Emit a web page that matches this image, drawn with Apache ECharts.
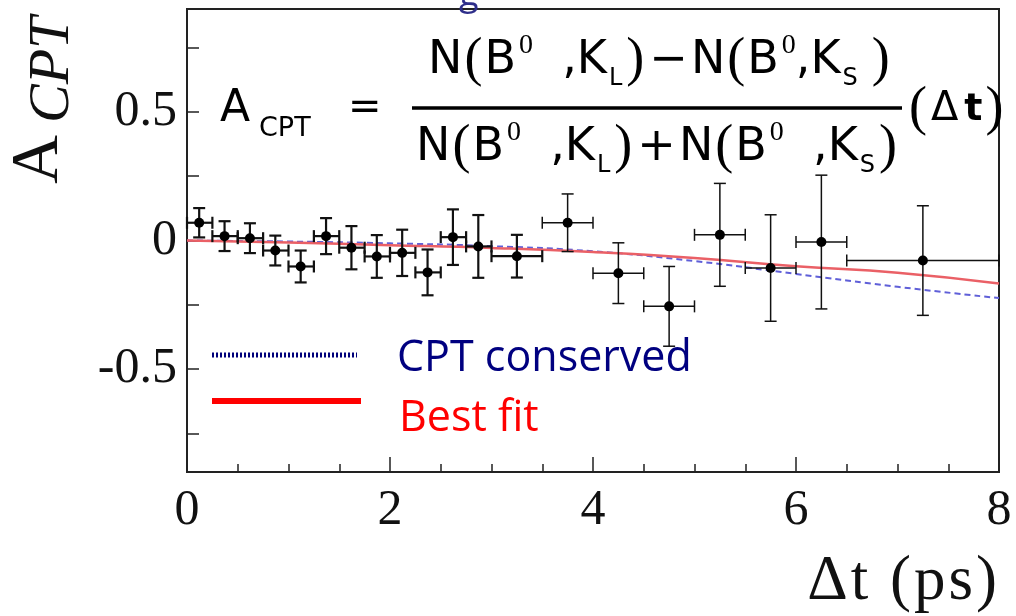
<!DOCTYPE html>
<html>
<head>
<meta charset="utf-8">
<script src="https://cdn.jsdelivr.net/npm/echarts@6/dist/echarts.min.js"></script>
<style>
  html, body { margin: 0; padding: 0; background: #fff; }
  #chart { width: 1016px; height: 616px; }
</style>
</head>
<body>
<div id="chart"></div>
<script>
// Measured CPT asymmetry per Δt bin
const dtCenter = [0.12, 0.37, 0.62, 0.87, 1.12, 1.37, 1.62, 1.87, 2.12, 2.37, 2.62, 2.87, 3.25, 3.75, 4.25, 4.75, 5.25, 5.75, 6.25, 7.25];
const binLow   = [0, 0.25, 0.5, 0.75, 1.0, 1.25, 1.5, 1.75, 2.0, 2.25, 2.5, 2.75, 3.0, 3.5, 4.0, 4.5, 5.0, 5.5, 6.0, 6.5];
const binHigh  = [0.25, 0.5, 0.75, 1.0, 1.25, 1.5, 1.75, 2.0, 2.25, 2.5, 2.75, 3.0, 3.5, 4.0, 4.5, 5.0, 5.5, 6.0, 6.5, 8.0];
const acpt     = [0.069, 0.017, 0.009, -0.039, -0.101, 0.017, -0.028, -0.062, -0.048, -0.124, 0.013, -0.023, -0.061, 0.069, -0.127, -0.256, 0.022, -0.107, -0.006, -0.078];
const acptErr  = [0.057, 0.058, 0.058, 0.058, 0.062, 0.070, 0.084, 0.083, 0.090, 0.089, 0.108, 0.122, 0.083, 0.112, 0.118, 0.155, 0.200, 0.207, 0.260, 0.213];

// Model curves
const curveDt      = [0, 1, 2, 3, 4, 5, 6, 7, 8];
const cptConserved = [0, -0.004, -0.011, -0.022, -0.042, -0.080, -0.130, -0.180, -0.224];
const bestFit      = [0, -0.008, -0.018, -0.029, -0.045, -0.068, -0.100, -0.125, -0.167];

// Axis ticks
const xTicks = [0, 2, 4, 6, 8];
const yLabels = [-0.5, 0, 0.5];
const yTicks = [-0.75, -0.5, -0.25, 0, 0.25, 0.5, 0.75];

const points = dtCenter.map((x, i) => [x, acpt[i], binLow[i], binHigh[i], acptErr[i]]);

const serif = '"Liberation Serif", "DejaVu Serif", serif';
const sans = '"DejaVu Sans", sans-serif';
const hand = '"Open Sans", "DejaVu Sans", sans-serif';

function renderPoint(params, api) {
  const x = api.value(0), y = api.value(1);
  const lo = api.value(2), hi = api.value(3), e = api.value(4);
  const c = api.coord([x, y]);
  const top = api.coord([x, y + e]);
  const bot = api.coord([x, y - e]);
  const left = api.coord([lo, y]);
  const right = api.coord([hi, y]);
  const w = x < 3.5 ? 2.2 : 1.5;
  const st = { stroke: '#111', lineWidth: w, fill: null };
  const cap = 6;
  return {
    type: 'group',
    children: [
      { type: 'line', shape: { x1: c[0], y1: top[1], x2: c[0], y2: bot[1] }, style: st },
      { type: 'line', shape: { x1: c[0] - cap, y1: top[1], x2: c[0] + cap, y2: top[1] }, style: st },
      { type: 'line', shape: { x1: c[0] - cap, y1: bot[1], x2: c[0] + cap, y2: bot[1] }, style: st },
      { type: 'line', shape: { x1: left[0], y1: c[1], x2: right[0], y2: c[1] }, style: st },
      { type: 'line', shape: { x1: left[0], y1: c[1] - cap, x2: left[0], y2: c[1] + cap }, style: st },
      { type: 'line', shape: { x1: right[0], y1: c[1] - cap, x2: right[0], y2: c[1] + cap }, style: st },
      { type: 'circle', shape: { cx: c[0], cy: c[1], r: 5 }, style: { fill: '#000' } }
    ]
  };
}

// Rich-text styles for the fraction
const fracRich = {
  n: { fontFamily: sans, fontSize: 46, fill: '#000', lineHeight: 64, verticalAlign: 'middle' },
  pr: { fontFamily: serif, fontSize: 54, fill: '#000', lineHeight: 64, verticalAlign: 'middle', padding: [0, 2, 0, 2] },
  p: { fontFamily: serif, fontSize: 28, fill: '#000', lineHeight: 64, verticalAlign: 'top', padding: [3, 0, 0, 3] },
  b: { fontFamily: sans, fontSize: 24, fill: '#000', lineHeight: 64, verticalAlign: 'bottom', padding: [0, 2, 2, 2] },
  bs: { fontFamily: sans, fontSize: 24, fill: '#000', lineHeight: 64, verticalAlign: 'bottom', padding: [0, 12, 2, 2] },
  op: { fontFamily: sans, fontSize: 46, fill: '#000', lineHeight: 64, verticalAlign: 'middle', padding: [0, 3, 0, 3] }
};

// Δt with spaced glyphs
const axisTitleRich = {
  c: { fontFamily: serif, fontSize: 63, fill: '#111', padding: [0, 3, 0, 0] }
};

const chart = echarts.init(document.getElementById('chart'), null, { renderer: 'canvas' });

chart.setOption({
  animation: false,
  backgroundColor: '#fff',
  grid: { left: 187, right: 17, top: 9, bottom: 144, show: true, borderColor: '#222', borderWidth: 2, backgroundColor: 'transparent' },
  xAxis: {
    type: 'value', min: 0, max: 8, interval: 2,
    axisLine: { onZero: false, lineStyle: { color: '#222', width: 2 } },
    axisTick: { inside: true, length: 15, lineStyle: { color: '#222', width: 1.5 } },
    minorTick: { show: true, splitNumber: 4, length: 8, lineStyle: { color: '#222', width: 1.5 } },
    splitLine: { show: false },
    axisLabel: {
      margin: 14, fontFamily: serif, fontSize: 50, color: '#111',
      customValues: xTicks,
      formatter: v => String(v)
    }
  },
  yAxis: {
    type: 'value', min: -0.9, max: 0.9,
    axisLine: { show: true, onZero: false, lineStyle: { color: '#222', width: 2 } },
    axisTick: { show: true, inside: true, length: 12, customValues: yTicks, lineStyle: { color: '#222', width: 1.5 } },
    splitLine: { show: false },
    axisLabel: {
      margin: 10, fontFamily: serif, fontSize: 50, color: '#111',
      customValues: yLabels,
      formatter: v => (v === 0 ? '0' : String(v))
    }
  },
  series: [
    {
      type: 'line', data: curveDt.map((x, i) => [x, cptConserved[i]]),
      smooth: true, showSymbol: false, z: 3,
      lineStyle: { color: '#5f5fd8', width: 2, type: [6, 4] }
    },
    {
      type: 'line', data: curveDt.map((x, i) => [x, bestFit[i]]),
      smooth: true, showSymbol: false, z: 3,
      lineStyle: { color: '#ea6066', width: 2.5 }
    },
    {
      type: 'custom', data: points, renderItem: renderPoint, z: 5,
      encode: { x: 0, y: 1 }
    }
  ],
  graphic: [
    // y-axis title
    { type: 'text', x: 73, y: 184, rotation: Math.PI / 2,
      style: { text: 'A', fontFamily: serif, fontSize: 68, fill: '#111', textAlign: 'left', textVerticalAlign: 'bottom' } },
    { type: 'text', x: 82, y: 123, rotation: Math.PI / 2,
      style: { text: 'CPT', fontFamily: serif, fontStyle: 'italic', fontSize: 58, fill: '#111', textAlign: 'left', textVerticalAlign: 'bottom' } },
    // x-axis title
    { type: 'text', x: 1000, y: 614,
      style: { text: '{c|Δ}{c|t}{c| }{c|(}{c|p}{c|s}{c|)}', rich: axisTitleRich, textAlign: 'right', textVerticalAlign: 'bottom' } },
    // cut-off glyph above the frame
    { type: 'text', x: 459, y: 13,
      style: { text: 'g', fontFamily: hand, fontSize: 36, fill: '#2e2e8a', textAlign: 'left', textVerticalAlign: 'bottom' } },
    // asymmetry definition
    { type: 'text', x: 220, y: 132,
      style: { text: 'A', fontFamily: sans, fontSize: 44, fill: '#000', textAlign: 'left', textVerticalAlign: 'bottom' } },
    { type: 'text', x: 259, y: 142,
      style: { text: 'CPT', fontFamily: sans, fontSize: 27, fill: '#000', textAlign: 'left', textVerticalAlign: 'bottom' } },
    { type: 'text', x: 348, y: 129,
      style: { text: '=', fontFamily: sans, fontSize: 40, fill: '#000', textAlign: 'left', textVerticalAlign: 'bottom' } },
    { type: 'line', shape: { x1: 412, y1: 108, x2: 902, y2: 108 }, style: { stroke: '#000', lineWidth: 3.5 } },
    { type: 'text', x: 428, y: 93,
      style: {
        text: '{n|N}{pr|(}{n|B}{p|0}{n|  ,K}{b|L}{pr|)}{op|−}{n|N}{pr|(}{n|B}{p|0}{n|,K}{bs|S}{pr|)}',
        textAlign: 'left', textVerticalAlign: 'bottom', rich: fracRich
      } },
    { type: 'text', x: 416, y: 180,
      style: {
        text: '{n|N}{pr|(}{n|B}{p|0}{n|  ,K}{b|L}{pr|)}{op|+}{n|N}{pr|(}{n|B}{p|0}{n|  ,K}{b|S}{pr|)}',
        textAlign: 'left', textVerticalAlign: 'bottom', rich: fracRich
      } },
    { type: 'text', x: 909, y: 140,
      style: {
        text: '{pr|(}{d|Δ}{t|t}{pr|)}',
        textAlign: 'left', textVerticalAlign: 'bottom',
        rich: {
          pr: { fontFamily: serif, fontSize: 54, fill: '#000', lineHeight: 60, verticalAlign: 'middle' },
          d: { fontFamily: sans, fontSize: 40, fill: '#000', lineHeight: 60, verticalAlign: 'middle', padding: [0, 6, 0, 4] },
          t: { fontFamily: sans, fontWeight: 'bold', fontSize: 38, fill: '#000', lineHeight: 60, verticalAlign: 'middle', padding: [0, 3, 0, 0] }
        }
      } },
    // legend
    { type: 'line', shape: { x1: 212, y1: 355, x2: 357, y2: 355 }, style: { stroke: '#00007a', lineWidth: 5, lineDash: [2, 2] } },
    { type: 'text', x: 397, y: 380,
      style: { text: 'CPT conserved', fontFamily: hand, fontSize: 43, fill: '#000080', textAlign: 'left', textVerticalAlign: 'bottom' } },
    { type: 'line', shape: { x1: 212, y1: 401, x2: 361, y2: 401 }, style: { stroke: '#ff0000', lineWidth: 6 } },
    { type: 'text', x: 399, y: 440,
      style: { text: 'Best fit', fontFamily: hand, fontSize: 43, fill: '#ff0000', textAlign: 'left', textVerticalAlign: 'bottom' } }
  ]
});
</script>
</body>
</html>
